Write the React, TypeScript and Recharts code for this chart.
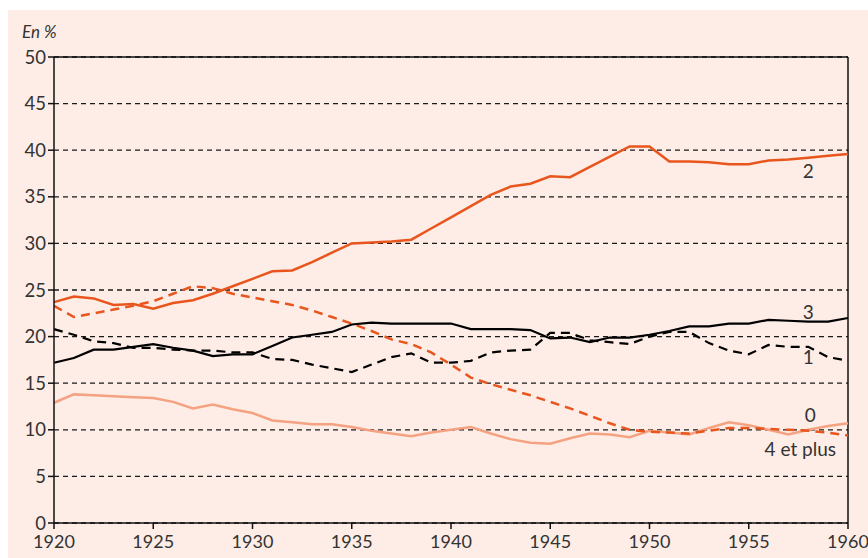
import { LineChart, Line, XAxis, YAxis, CartesianGrid, ReferenceLine } from "recharts";

const years = [
  1920, 1921, 1922, 1923, 1924, 1925, 1926, 1927, 1928, 1929,
  1930, 1931, 1932, 1933, 1934, 1935, 1936, 1937, 1938, 1939,
  1940, 1941, 1942, 1943, 1944, 1945, 1946, 1947, 1948, 1949,
  1950, 1951, 1952, 1953, 1954, 1955, 1956, 1957, 1958, 1959, 1960,
];

const zero = [
  12.9, 13.8, 13.7, 13.6, 13.5, 13.4, 13.0, 12.3, 12.7, 12.2,
  11.8, 11.0, 10.8, 10.6, 10.6, 10.3, 9.9, 9.6, 9.3, 9.7,
  10.0, 10.3, 9.6, 9.0, 8.6, 8.5, 9.1, 9.6, 9.5, 9.2,
  9.9, 9.7, 9.5, 10.2, 10.8, 10.5, 10.0, 9.5, 10.0, 10.4, 10.7,
];

const one = [
  20.8, 20.2, 19.5, 19.3, 18.8, 18.8, 18.6, 18.5, 18.5, 18.3,
  18.3, 17.6, 17.5, 17.0, 16.6, 16.2, 17.0, 17.8, 18.2, 17.2,
  17.2, 17.4, 18.3, 18.5, 18.6, 20.4, 20.4, 19.6, 19.4, 19.2,
  20.0, 20.5, 20.5, 19.3, 18.5, 18.1, 19.1, 18.9, 18.9, 17.8, 17.4,
];

const two = [
  23.7, 24.3, 24.1, 23.4, 23.5, 23.0, 23.6, 23.9, 24.6, 25.4,
  26.2, 27.0, 27.1, 28.0, 29.0, 30.0, 30.1, 30.2, 30.4, 31.6,
  32.8, 34.0, 35.2, 36.1, 36.4, 37.2, 37.1, 38.2, 39.3, 40.4,
  40.4, 38.8, 38.8, 38.7, 38.5, 38.5, 38.9, 39.0, 39.2, 39.4, 39.6,
];

const three = [
  17.2, 17.7, 18.6, 18.6, 18.9, 19.2, 18.8, 18.5, 17.9, 18.1,
  18.1, 19.0, 19.9, 20.2, 20.5, 21.3, 21.5, 21.4, 21.4, 21.4,
  21.4, 20.8, 20.8, 20.8, 20.7, 19.8, 19.9, 19.4, 19.9, 19.9,
  20.2, 20.6, 21.1, 21.1, 21.4, 21.4, 21.8, 21.7, 21.6, 21.6, 22.0,
];

const fourPlus = [
  23.3, 22.1, 22.5, 22.9, 23.3, 23.8, 24.6, 25.4, 25.2, 24.6,
  24.2, 23.8, 23.4, 22.8, 22.1, 21.4, 20.6, 19.7, 19.2, 18.3,
  17.0, 15.6, 14.9, 14.3, 13.7, 13.0, 12.3, 11.5, 10.7, 10.0,
  9.8, 9.7, 9.6, 9.9, 10.2, 10.2, 10.1, 10.0, 9.9, 9.7, 9.4,
];

const xTicks = [1920, 1925, 1930, 1935, 1940, 1945, 1950, 1955, 1960];
const yTicks = [0, 5, 10, 15, 20, 25, 30, 35, 40, 45, 50];

const data = years.map((year, i) => ({
  year,
  zero: zero[i],
  one: one[i],
  two: two[i],
  three: three[i],
  fourPlus: fourPlus[i],
}));

const ORANGE = "#e8561e";
const LIGHT = "#f4a282";
const INK = "#333333";
const FONT = "Lato, 'Open Sans', sans-serif";

// draws the series name once, next to the 1958 point
const nameLabel = (text: string, dy: number, dx = 0) => (props: any) => {
  if (props.index !== 38) return null;
  return (
    <text
      x={props.x + dx}
      y={props.y + dy}
      textAnchor="middle"
      dominantBaseline="central"
      fill={INK}
      fontSize={19}
      fontFamily={FONT}
    >
      {text}
    </text>
  );
};

export default function App() {
  return (
    <div style={{ width: 868, height: 558, paddingTop: 10, paddingLeft: 8, boxSizing: "border-box" }}>
      <style>{"body { margin: 0; }"}</style>
      <div
        style={{
          position: "relative",
          width: 860,
          height: 548,
          background: "#fdede6",
        }}
      >
        <div
          style={{
            position: "absolute",
            left: 14,
            top: 11,
            fontFamily: FONT,
            fontStyle: "italic",
            fontSize: 17,
            color: INK,
          }}
        >
          En %
        </div>
        <LineChart
          width={860}
          height={548}
          data={data}
          margin={{ top: 47, right: 20, left: 0, bottom: 0 }}
          style={{ overflow: "visible" }}
        >
          <CartesianGrid
            vertical={false}
            stroke="#1a1a1a"
            strokeDasharray="5 4"
            strokeWidth={1.3}
          />
          <XAxis
            dataKey="year"
            type="number"
            domain={[1920, 1960]}
            ticks={xTicks}
            height={35}
            tickSize={6}
            axisLine={{ stroke: "#111", strokeWidth: 1.5 }}
            tickLine={{ stroke: "#111", strokeWidth: 1.5 }}
            tick={{ fill: INK, fontSize: 18, fontFamily: FONT, dy: 4 }}
          />
          <YAxis
            type="number"
            domain={[0, 50]}
            ticks={yTicks}
            width={46}
            tickSize={6}
            axisLine={{ stroke: "#111", strokeWidth: 1.5 }}
            tickLine={{ stroke: "#111", strokeWidth: 1.5 }}
            tick={{ fill: INK, fontSize: 18.5, fontFamily: FONT }}
          />
          <ReferenceLine y={50} stroke="#111" strokeWidth={1.5} />
          <ReferenceLine x={1960} stroke="#111" strokeWidth={1.5} />
          <Line
            dataKey="zero"
            stroke={LIGHT}
            strokeWidth={2.5}
            dot={false}
            isAnimationActive={false}
            label={nameLabel("0", -15, 2)}
          />
          <Line
            dataKey="fourPlus"
            stroke={ORANGE}
            strokeWidth={2.5}
            strokeDasharray="9 6"
            dot={false}
            isAnimationActive={false}
            label={nameLabel("4 et plus", 18, -8)}
          />
          <Line
            dataKey="one"
            stroke="#000"
            strokeWidth={2.2}
            strokeDasharray="9 6"
            dot={false}
            isAnimationActive={false}
            label={nameLabel("1", 10, 0)}
          />
          <Line
            dataKey="three"
            stroke="#000"
            strokeWidth={2.2}
            dot={false}
            isAnimationActive={false}
            label={nameLabel("3", -10, 0)}
          />
          <Line
            dataKey="two"
            stroke={ORANGE}
            strokeWidth={2.5}
            dot={false}
            isAnimationActive={false}
            label={nameLabel("2", 13, 0)}
          />
        </LineChart>
      </div>
    </div>
  );
}
